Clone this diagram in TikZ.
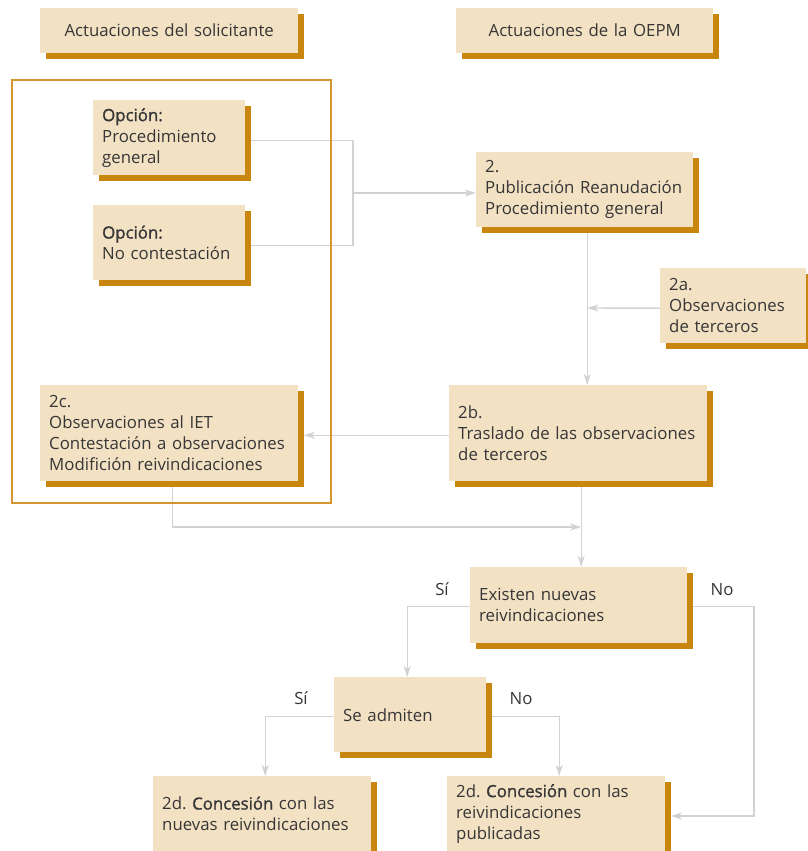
\documentclass[tikz,border=0pt]{standalone}
\usepackage{fontspec}
\setmainfont{Open Sans}
\newfontface\semib{Open Sans}[FakeBold=1.3]
\usetikzlibrary{arrows.meta,shadows,calc}
\definecolor{boxfill}{HTML}{F3E1C4}
\definecolor{shadowc}{HTML}{C8860F}
\definecolor{framec}{HTML}{D4962E}
\definecolor{linec}{HTML}{D2D2D2}
\definecolor{txt}{HTML}{363636}
\frenchspacing
\begin{document}
\begin{tikzpicture}[x=1pt,y=-1pt,
  box/.style={fill=boxfill,
    general shadow={fill=shadowc, shadow xshift=5.5pt, shadow yshift=-5.5pt},
    anchor=north west, inner xsep=9pt, inner ysep=0pt, align=left,
    text=txt, font=\fontsize{16.8}{21}\selectfont},
  conn/.style={draw=linec, line width=1.4pt},
  arr/.style={conn, -{Stealth[length=11pt,width=7pt,inset=3pt]}},
  lbl/.style={text=txt, font=\fontsize{16.8}{21}\selectfont, anchor=base, inner sep=0pt}]
\useasboundingbox (0,0) rectangle (808,851);

% headers
\node[box, align=center, text width=240pt, minimum height=45pt] (hdrA) at (40,8) {Actuaciones del solicitante};
\node[box, align=center, text width=239pt, minimum height=45pt] (hdrB) at (456,8) {Actuaciones de la OEPM};

% boxes
\node[box, text width=134pt, minimum height=75pt] (opc1) at (93,100) {{\semib Opción:}\\Procedimiento\\general};
\node[box, text width=134pt, minimum height=75pt] (opc2) at (93,205) {{\semib Opción:}\\No contestación};
\node[box, text width=199pt, minimum height=75pt] (pub) at (476,152) {2.\\Publicación Reanudación\\Procedimiento general};
\node[box, text width=128pt, minimum height=75pt] (obs) at (660,268) {2a.\\Observaciones\\de terceros};
\node[box, text width=240pt, minimum height=96pt] (tras) at (449,385) {2b.\\Traslado de las observaciones\\de terceros};
\node[box, text width=240pt, minimum height=96pt] (iet) at (40,385) {2c.\\Observaciones al IET\\Contestación a observaciones\\Modifición reivindicaciones};
\node[box, text width=199pt, minimum height=76pt] (exist) at (470,567) {Existen nuevas\\reivindicaciones};
\node[box, text width=134pt, minimum height=75pt] (adm) at (334,677) {Se admiten};
\node[box, text width=200pt, minimum height=75pt] (conL) at (153,776) {2d. {\semib Concesión} con las\\nuevas reivindicaciones};
\node[box, text width=200pt, minimum height=75pt] (conR) at (447,776) {2d. {\semib Concesión} con las\\reivindicaciones\\publicadas};

% connectors
\coordinate (j) at (353,193);
\draw[conn] ([xshift=5.5pt,yshift=-2.5pt]opc1.east) -| (j) |- ([xshift=5.5pt,yshift=-2.5pt]opc2.east);
\draw[arr] (j) -- (pub.west |- j);

\coordinate (p2) at ([xshift=2.5pt,yshift=-5.5pt]pub.south);
\draw[arr] (p2) -- (p2 |- tras.north);
\draw[arr] ([yshift=-2.5pt]obs.west) -- (p2 |- 0,308);

\draw[arr] ([yshift=-2pt]tras.west) -- ([xshift=5.5pt,yshift=-2pt]iet.east);

\coordinate (t6) at ([xshift=3pt,yshift=-5.5pt]tras.south);
\draw[arr] (t6) -- (t6 |- exist.north);
\coordinate (m) at (t6 |- 0,527);
\draw[arr] ([xshift=3pt,yshift=-5.5pt]iet.south) |- (m);

\draw[arr] ([yshift=-1pt]exist.west) -| ([xshift=-3pt]adm.north);
\coordinate (k) at (754,816);
\coordinate (cre) at ([xshift=5.5pt]conR.east);
\draw[arr] ([xshift=5.5pt,yshift=-1pt]exist.east) -| (k) -- (k -| cre);

\draw[arr] ([yshift=-1.5pt]adm.west) -| ([xshift=3pt]conL.north);
\draw[arr] ([xshift=5.5pt,yshift=-1.5pt]adm.east) -| ([xshift=3pt]conR.north);

% frame
\draw[framec, line width=1.2pt] (12,80) rectangle (331,503);

% labels
\node[lbl] (si1) at (442,595) {Sí};
\node[lbl] (no1) at (722,595) {No};
\node[lbl] (si2) at (301,704) {Sí};
\node[lbl] (no2) at (521,704) {No};
\end{tikzpicture}
\end{document}
